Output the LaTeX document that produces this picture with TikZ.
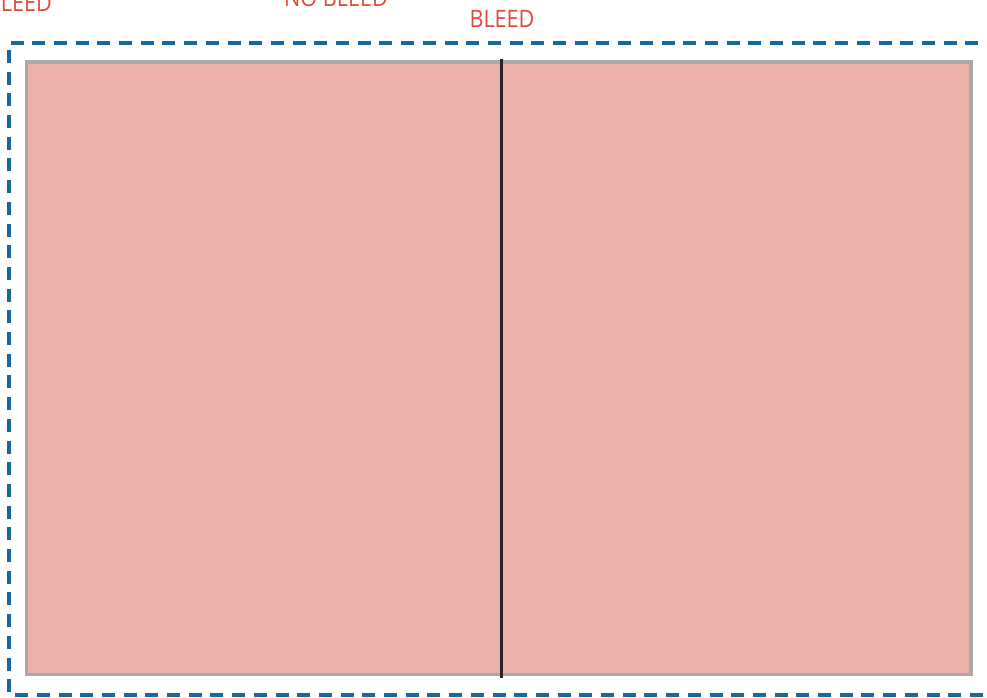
\documentclass[tikz,border=0pt]{standalone}
\usepackage{fontspec}
\setmainfont{Open Sans}
\usepackage{tikz}
\definecolor{bleedblue}{HTML}{15699C}
\definecolor{sheetpink}{HTML}{EBB0AA}
\definecolor{sheetgray}{HTML}{A9A9A9}
\definecolor{tagred}{HTML}{E04A3A}

\begin{document}
\begin{tikzpicture}[x=1pt, y=-1pt,
  sheet/.style={draw=sheetgray, line width=3.3pt, fill=sheetpink, minimum width=944.5pt,
    minimum height=612.5pt, inner sep=0pt},
  tag/.style={text=tagred, font=\fontsize{24}{26}\selectfont, inner sep=0pt,
    xscale=0.9, transform shape},
  trim/.style={draw=bleedblue, line width=4pt, dash pattern=on 13pt off 8.7pt},
  fold/.style={draw=black!85, line width=3pt}]

\useasboundingbox (0,0) rectangle (987,698);
\clip (0,0) rectangle (987,698);

% Etichette in alto
\node[tag, anchor=base east] (lefttag) at (52,11.5) {BLEED};
\node[tag, anchor=base] (nobleedtag) at (336,7) {NO BLEED};
\node[tag, anchor=base] (bleedtag) at (502,27.3) {BLEED};

% Linea di taglio
\draw[trim] (1000,43) -- (8.7,43) -- (8.7,694.5) -- (1000,694.5);

% Foglio e piega
\node[sheet] (sheet) at (498.8,368.2) {};
\draw[fold] ([shift={(3,-1.5)}]sheet.north) -- ([shift={(3,1.5)}]sheet.south);

\end{tikzpicture}
\end{document}
